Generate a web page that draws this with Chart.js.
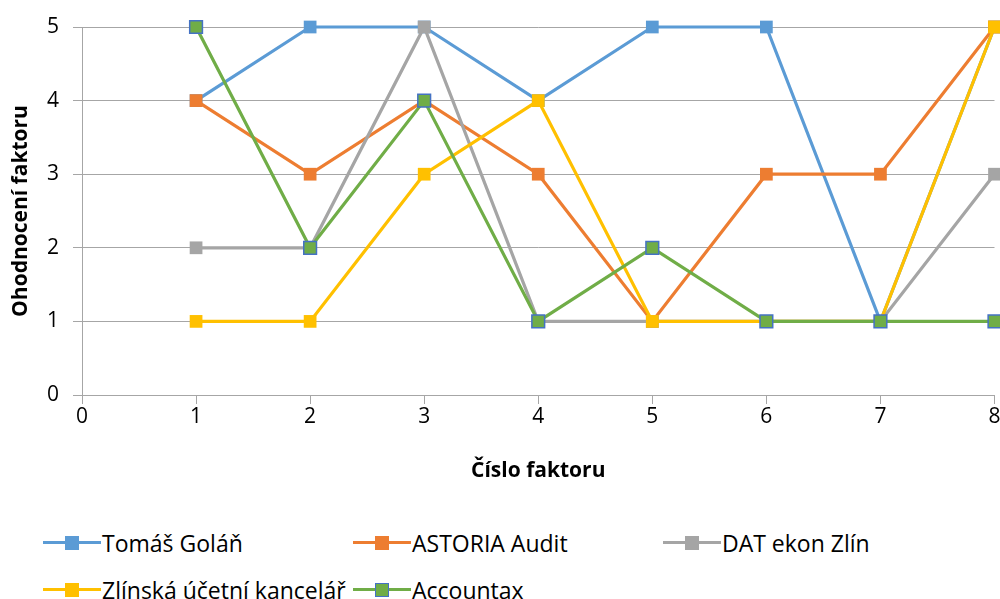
<!DOCTYPE html>
<html>
<head>
<meta charset="utf-8">
<script src="https://cdn.jsdelivr.net/npm/chart.js@4"></script>
<style>
  body { margin: 0; background: #fff; font-family: "Open Sans", sans-serif; }
  #wrap { position: relative; width: 1000px; height: 599px; overflow: hidden; }
  #chart { position: absolute; left: 0; top: 0; }
  .leg { position: absolute; font-size: 23px; color: #000; white-space: nowrap; display: flex; align-items: center; height: 30px; }
  .sym { position: relative; width: 58px; height: 14px; margin-right: 1px; }
  .sym .ln { position: absolute; left: 0; right: 0; top: 5px; height: 3px; }
  .sym .mk { position: absolute; left: 22px; top: 0; width: 14px; height: 14px; box-sizing: border-box; }
</style>
</head>
<body>
<div id="wrap">
  <!-- canvas je o 5px širší, okraj grafu se ořízne stejně jako v předloze -->
  <canvas id="chart" width="1005" height="500"></canvas>
  <div id="legend"></div>
</div>
<script>
// Data
const factors = [1, 2, 3, 4, 5, 6, 7, 8];
const seriesNames = ['Tomáš Goláň', 'ASTORIA Audit', 'DAT ekon Zlín', 'Zlínská účetní kancelář', 'Accountax'];
const golan = [4, 5, 5, 4, 5, 5, 1, 5];
const astoria = [4, 3, 4, 3, 1, 3, 3, 5];
const datEkon = [2, 2, 5, 1, 1, 1, 1, 3];
const zlinska = [1, 1, 3, 4, 1, 1, 1, 5];
const accountax = [5, 2, 4, 1, 2, 1, 1, 1];
const xTicks = [0, 1, 2, 3, 4, 5, 6, 7, 8];
const yTicks = [0, 1, 2, 3, 4, 5];

const colors = ['#5B9BD5', '#ED7D31', '#A5A5A5', '#FFC000', '#70AD47'];
const markerBorders = ['#5B9BD5', '#ED7D31', '#A5A5A5', '#FFC000', '#4472C4'];
const allValues = [golan, astoria, datEkon, zlinska, accountax];

const gridColor = '#A6A6A6';
const fontFam = '"Open Sans", sans-serif';

const datasets = allValues.map(function(vals, i) {
    return {
        label: seriesNames[i],
        data: factors.map(function(f, j) { return { x: f, y: vals[j] }; }),
        borderColor: colors[i],
        backgroundColor: colors[i],
        pointBackgroundColor: colors[i],
        pointBorderColor: markerBorders[i],
        pointBorderWidth: i === 4 ? 1.5 : 0,
        borderWidth: 3.2,
        pointStyle: 'rect',
        pointRadius: 9,
        pointHoverRadius: 9,
        tension: 0,
        clip: false,
        order: 5 - i // pozdější série navrchu
    };
});

new Chart(document.getElementById('chart'), {
    type: 'line',
    data: { datasets: datasets },
    options: {
        responsive: false,
        animation: false,
        events: [],
        layout: { padding: { top: 27, right: 0, left: 0, bottom: 0 } },
        plugins: { legend: { display: false }, tooltip: { enabled: false } },
        scales: {
            x: {
                type: 'linear',
                min: 0,
                max: 8,
                afterBuildTicks: function(axis) { axis.ticks = xTicks.map(function(v) { return { value: v }; }); },
                grid: { drawOnChartArea: false, drawTicks: true, tickLength: 9, color: gridColor },
                border: { display: true, color: gridColor, width: 1 },
                ticks: { color: '#000', font: { family: fontFam, size: 21 }, padding: 0 },
                title: { display: true, text: 'Číslo faktoru', color: '#000', font: { family: fontFam, size: 21, weight: 'bold' }, padding: { top: 0, bottom: 16 } },
                afterFit: function(axis) { axis.height = 105; }
            },
            y: {
                min: 0,
                max: 5,
                afterBuildTicks: function(axis) { axis.ticks = yTicks.map(function(v) { return { value: v }; }); },
                grid: { color: gridColor, tickLength: 9, lineWidth: 1 },
                border: { display: true, color: gridColor, width: 1 },
                ticks: { color: '#000', font: { family: fontFam, size: 21 }, padding: 14 },
                title: { display: true, text: 'Ohodnocení faktoru', color: '#000', font: { family: fontFam, size: 21, weight: 'bold' }, padding: { top: 8, bottom: 0 } },
                afterFit: function(axis) { axis.width = 82; }
            }
        }
    }
});

// Legenda
const legendPos = [[43, 528], [353, 528], [663, 528], [43, 575], [353, 575]];
const legend = document.getElementById('legend');
seriesNames.forEach(function(name, i) {
    const item = document.createElement('div');
    item.className = 'leg';
    item.style.left = legendPos[i][0] + 'px';
    item.style.top = legendPos[i][1] + 'px';
    item.innerHTML = '<div class="sym"><div class="ln" style="background:' + colors[i] + '"></div>' +
        '<div class="mk" style="background:' + colors[i] + ';border:' + (i === 4 ? '1.5px solid ' + markerBorders[i] : 'none') + '"></div></div>' +
        '<span>' + name + '</span>';
    legend.appendChild(item);
});
</script>
</body>
</html>
